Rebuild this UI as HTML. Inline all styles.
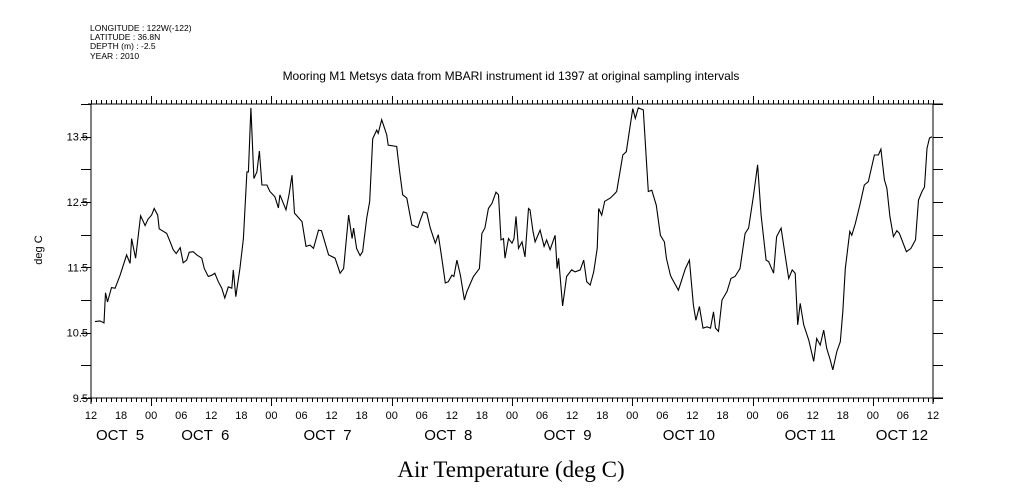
<!DOCTYPE html>
<html><head><meta charset="utf-8"><style>
html,body{margin:0;padding:0;background:#fff;}
svg{display:block;font-family:"Liberation Sans",sans-serif;}
</style></head><body>
<svg id="chart" width="1009" height="504" viewBox="0 0 1009 504" xmlns="http://www.w3.org/2000/svg">
<g font-size="8.5" fill="#000">
<text x="90" y="31">LONGITUDE : 122W(-122)</text>
<text x="90" y="40">LATITUDE : 36.8N</text>
<text x="90" y="49">DEPTH (m) : -2.5</text>
<text x="90" y="59">YEAR : 2010</text>
</g>
<text x="511" y="80" text-anchor="middle" font-size="12">Mooring M1 Metsys data from MBARI instrument id 1397 at original sampling intervals</text>
<text x="42" y="250" text-anchor="middle" font-size="11" transform="rotate(-90 42 250)">deg C</text>
<text x="511" y="477" text-anchor="middle" font-size="23" font-family="Liberation Serif, serif">Air Temperature (deg C)</text>
<g id="axes" stroke="#000" stroke-width="1" fill="none"></g>
<g id="labels" fill="#000"></g>
<path id="series" fill="none" stroke="#000" stroke-width="1.1"></path>
</svg>
<script>
const hours=[0.8,1.8,2.6,2.9,3.3,4.1,4.8,5.8,7.1,7.8,8.1,8.9,9.9,10.8,11.4,12.1,12.6,13.3,13.6,15.1,15.8,16.4,17.0,17.8,18.4,19.1,19.6,20.4,21.1,22.1,22.6,23.4,24.1,24.7,25.4,26.1,26.7,27.4,28.1,28.4,28.9,29.7,30.4,31.1,31.4,31.9,32.3,32.5,33.1,33.6,34.1,35.1,35.7,36.7,37.4,37.7,38.9,39.5,40.1,40.6,42.1,42.9,43.7,44.4,45.4,46.0,47.4,48.7,49.7,50.4,51.4,52.1,52.4,53.0,53.7,54.2,55.0,55.6,56.2,57.0,57.3,58.0,59.0,59.3,61.0,61.6,62.2,63.0,64.0,65.2,65.6,66.3,67.0,67.7,68.7,69.3,70.0,70.7,71.3,72.0,72.4,73.0,73.7,74.5,75.0,76.3,77.5,78.0,78.6,79.3,80.0,80.8,81.3,81.8,82.3,82.6,83.3,84.0,84.4,84.8,85.3,86.0,86.6,87.3,87.6,88.2,88.6,89.6,90.4,90.9,91.6,92.6,93.0,93.3,94.1,94.9,95.9,96.6,97.6,98.3,98.9,99.6,100.3,101.0,101.3,101.9,102.5,103.6,104.3,104.9,106.1,106.8,107.6,108.1,108.6,109.2,110.2,111.2,111.9,112.8,113.6,114.4,114.8,115.6,115.9,117.2,118.6,119.4,120.2,120.7,121.4,122.1,122.9,123.6,124.2,124.6,125.2,125.9,126.9,127.7,128.5,129.5,130.5,131.2,132.2,133.0,133.7,134.7,135.2,136.2,136.8,137.7,138.5,139.2,139.9,140.5,141.0,141.5,142.2,143.2,144.2,144.8,145.5,146.2,146.8,147.5,148.0,148.8,149.5,150.0,150.5,151.4,151.8,152.5,153.4,154.3,155.1,156.3,157.1,157.6,158.3,158.8,159.4,160.1,160.8,161.3,162.7,163.6,164.5,165.1,165.8,166.3,166.8,167.3,167.8];
const temps=[10.67,10.68,10.65,11.11,10.97,11.19,11.18,11.38,11.69,11.56,11.94,11.64,12.29,12.14,12.24,12.30,12.40,12.30,12.09,12.02,11.89,11.77,11.71,11.80,11.57,11.61,11.73,11.74,11.69,11.64,11.48,11.36,11.38,11.41,11.28,11.18,11.03,11.20,11.18,11.46,11.05,11.48,11.94,12.96,12.96,13.94,13.22,12.86,12.96,13.28,12.76,12.76,12.66,12.58,12.41,12.61,12.38,12.61,12.91,12.33,12.20,11.82,11.84,11.79,12.07,12.06,11.69,11.64,11.41,11.48,12.30,11.94,12.10,11.79,11.68,11.74,12.25,12.51,13.47,13.60,13.55,13.76,13.53,13.37,13.35,12.96,12.61,12.56,12.15,12.11,12.20,12.35,12.33,12.10,11.87,12.00,11.64,11.26,11.28,11.38,11.36,11.61,11.38,11.00,11.13,11.36,11.48,12.02,12.10,12.40,12.48,12.65,12.61,11.92,11.94,11.64,11.94,11.87,11.94,12.28,11.79,11.89,11.66,12.40,12.38,12.05,11.89,12.07,11.82,11.92,11.77,11.99,11.48,11.64,10.91,11.36,11.46,11.43,11.46,11.61,11.28,11.23,11.43,11.79,12.40,12.30,12.51,12.56,12.61,12.66,13.22,13.27,13.68,13.93,13.78,13.94,13.91,12.66,12.68,12.45,11.99,11.89,11.64,11.38,11.33,11.15,11.48,11.61,10.92,10.69,10.90,10.57,10.59,10.57,10.82,10.57,10.52,11.00,11.13,11.33,11.36,11.48,12.02,12.10,12.61,13.07,12.30,11.61,11.59,11.41,11.97,12.10,11.69,11.33,11.46,11.41,10.62,10.95,10.62,10.39,10.06,10.41,10.31,10.54,10.26,10.08,9.93,10.21,10.36,10.82,11.48,12.05,11.99,12.17,12.45,12.76,12.81,13.22,13.22,13.31,12.84,12.71,12.28,11.97,12.06,12.02,11.74,11.79,11.92,12.53,12.66,12.73,13.32,13.48,13.50];
const yTicks=[9.5,10.5,11.5,12.5,13.5];
const hourLabels=["12","18","00","06","12","18","00","06","12","18","00","06","12","18","00","06","12","18","00","06","12","18","00","06","12","18","00","06","12"];
const dayLabels=["OCT  5","OCT  6","OCT  7","OCT  8","OCT  9","OCT 10","OCT 11","OCT 12"];
const dayLabelHours=[5.8,22.8,47.2,71.3,95.1,119.3,143.5,161.8];

const X0=91,X1=933,Y0=398,Y1=104,HMAX=168,TMIN=9.5,TMAX=14.0;
const xs=h=>X0+(h/HMAX)*(X1-X0);
const ys=t=>Y0-(t-TMIN)/(TMAX-TMIN)*(Y0-Y1);
const NS="http://www.w3.org/2000/svg";
const axes=document.getElementById('axes'),labels=document.getElementById('labels');
function line(x1,y1,x2,y2,name){const l=document.createElementNS(NS,'line');l.setAttribute('x1',x1);l.setAttribute('y1',y1);l.setAttribute('x2',x2);l.setAttribute('y2',y2);


axes.appendChild(l);}
line(X0,Y1,X0,Y0+6,'y-axis-left');
line(X1,Y1,X1,Y0+6,'y-axis-right');
line(X0-3,Y0,X1+10,Y0,'x-axis-bottom');
line(X0-3,Y1,X1+10,Y1,'x-axis-top');
for(let h=0;h<=HMAX;h++){const major=((h+12)%24===0);const len=major?8:4;const x=Math.round(xs(h))+0.5;
line(x,Y0,x,Y0+len,'x-tick');line(x,Y1,x,Y1-len,'x-tick-top');}
for(let v=TMIN;v<=TMAX+0.001;v+=0.5){const y=Math.round(ys(v))+0.5;line(X0-10,y,X0,y,'y-tick');line(X1,y,X1+10,y,'y-tick-right');}
yTicks.forEach(v=>{const t=document.createElementNS(NS,'text');t.setAttribute('x',88);t.setAttribute('y',ys(v)+4);t.setAttribute('text-anchor','end');t.setAttribute('font-size','11');t.textContent=v.toFixed(1);


labels.appendChild(t);});
hourLabels.forEach((s,i)=>{const t=document.createElementNS(NS,'text');t.setAttribute('x',xs(i*6));t.setAttribute('y',419);t.setAttribute('text-anchor','middle');t.setAttribute('font-size','11');t.textContent=s;


labels.appendChild(t);});
dayLabels.forEach((s,i)=>{const t=document.createElementNS(NS,'text');t.setAttribute('x',xs(dayLabelHours[i]));t.setAttribute('y',440);t.setAttribute('text-anchor','middle');t.setAttribute('font-size','15');t.setAttribute('xml:space','preserve');t.style.whiteSpace='pre';t.textContent=s;


labels.appendChild(t);});
let d='';hours.forEach((h,i)=>{d+=(i?'L':'M')+xs(h).toFixed(1)+' '+ys(temps[i]).toFixed(1);});
document.getElementById('series').setAttribute('d',d);
</script>
</body></html>
